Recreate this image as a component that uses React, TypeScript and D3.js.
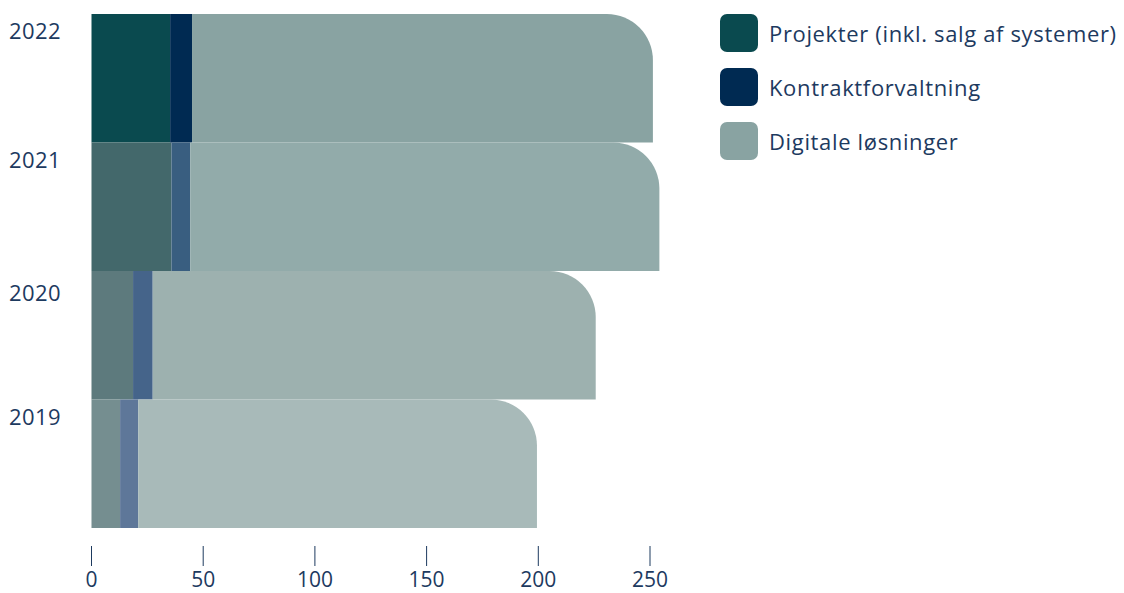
import React from "react";
import * as d3 from "d3";

const years = ["2022", "2021", "2020", "2019"];
const seriesNames = ["Projekter (inkl. salg af systemer)", "Kontraktforvaltning", "Digitale løsninger"];
const projekter = [35.2, 35.8, 18.6, 12.8];
const kontrakt = [9.8, 8.4, 8.8, 8.1];
const digitale = [206.3, 210.0, 198.3, 178.5];
const xTicks = [0, 50, 100, 150, 200, 250];

const legendColors = ["#0a4a4f", "#002a52", "#89a3a2"];
const yearColors = [
  ["#0a4a4f", "#002a52", "#89a3a2"],
  ["#43686b", "#395e80", "#92abaa"],
  ["#5d7a7d", "#45648a", "#9db1af"],
  ["#758e90", "#5e7799", "#a8bab9"],
];

const W = 1124;
const H = 593;
const textColor = "#1d3a5f";
const font = "'Open Sans', 'Noto Sans', sans-serif";

export default function App() {
  const x = d3.scaleLinear().domain([0, 250]).range([91.5, 650]);
  const y = d3.scaleBand().domain(years).range([14, 528]).padding(0);
  const rows = years.map((yr, i) => ({ yr, vals: [projekter[i], kontrakt[i], digitale[i]] }));
  const stack = d3.stack<any>().keys(["0", "1", "2"]).value((d: any, k: string) => d.vals[+k]);
  const stacked = stack(rows as any);
  const r = 46;

  const barPath = (x0: number, x1: number, y0: number, y1: number, rounded: boolean) => {
    if (!rounded) return `M${x0},${y0}H${x1}V${y1}H${x0}Z`;
    const rr = Math.min(r, x1 - x0, y1 - y0);
    return `M${x0},${y0}H${x1 - rr}A${rr},${rr} 0 0 1 ${x1},${y0 + rr}V${y1}H${x0}Z`;
  };

  return (
    <svg width={W} height={H} style={{ position: "absolute", left: 0, top: 0, fontFamily: font }}>
      {stacked.map((layer, si) =>
        layer.map((d, i) => {
          const y0 = y(years[i])!;
          const y1 = y0 + y.bandwidth();
          return (
            <path
              key={`${si}-${i}`}
              d={barPath(x(d[0]), x(d[1]), y0, y1, si === 2)}
              fill={yearColors[i][si]}
            />
          );
        })
      )}
      {years.map((yr, i) => (
        <text
          key={yr}
          x={9}
          y={y(yr)! + (i === 2 ? 21 : 16)}
          dominantBaseline="central"
          fontSize={22}
          letterSpacing={0.4}
          fill={textColor}
        >
          {yr}
        </text>
      ))}
      {xTicks.map((t) => (
        <g key={t} transform={`translate(${x(t)},0)`}>
          <line y1={546} y2={566} stroke={textColor} strokeWidth={1} />
          <text y={587} textAnchor="middle" fontSize={21} fill={textColor}>
            {t}
          </text>
        </g>
      ))}
      {seriesNames.map((name, i) => (
        <g key={name} transform={`translate(720,${14 + i * 54})`}>
          <rect width={38} height={38} rx={7} fill={legendColors[i]} />
          <text x={49} y={19} dominantBaseline="central" fontSize={22} letterSpacing={0.65} fill={textColor}>
            {name}
          </text>
        </g>
      ))}
    </svg>
  );
}
